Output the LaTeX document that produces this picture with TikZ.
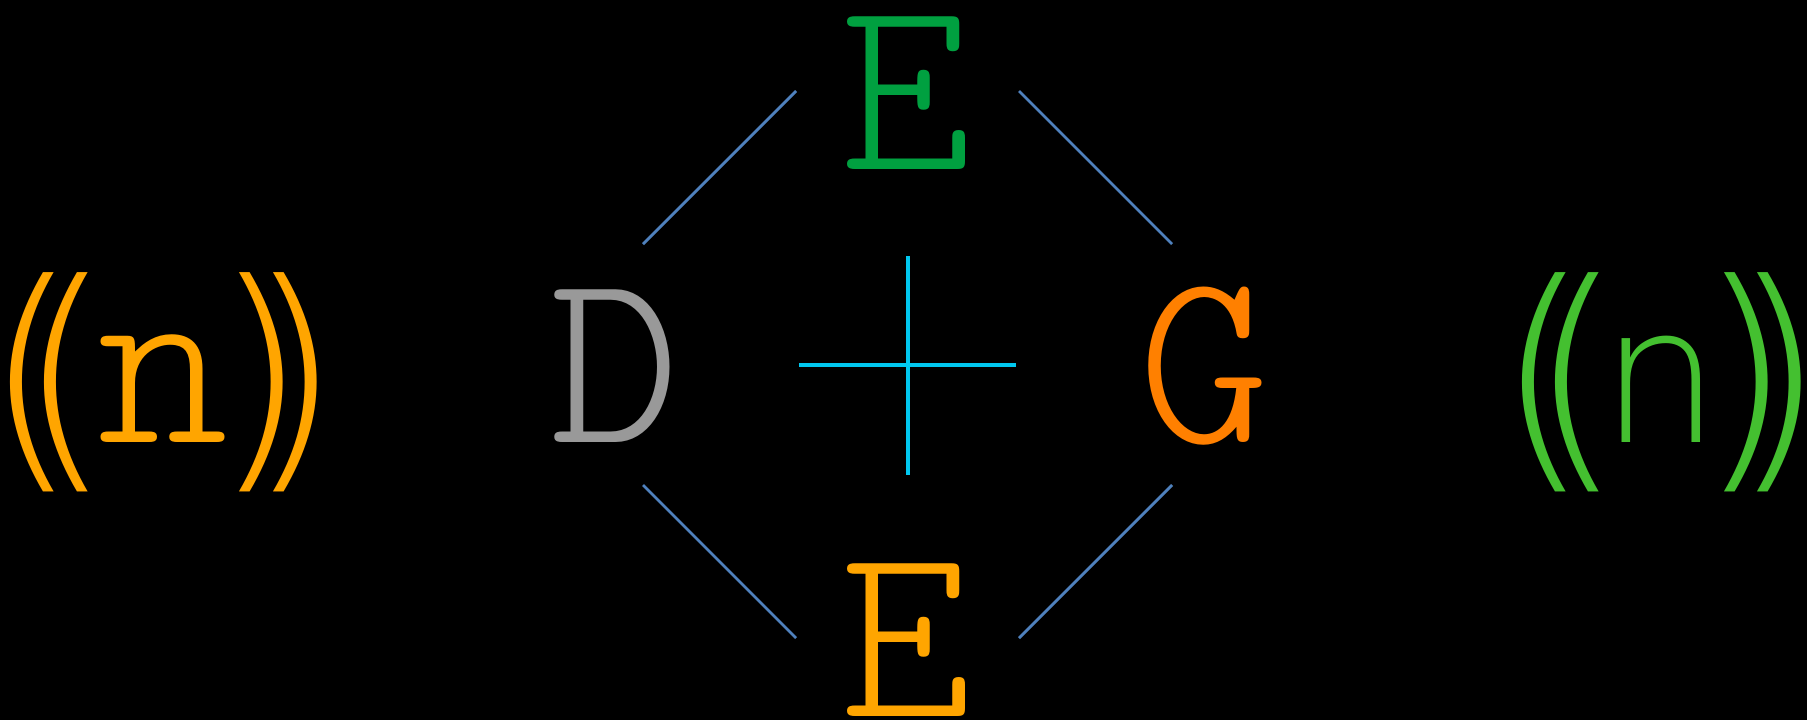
\documentclass[tikz,border=0pt]{standalone}
\usepackage{fontspec}
\newfontfamily\lmlt{Latin Modern Mono Light}
\newfontfamily\djl{DejaVu Sans ExtraLight}
\definecolor{egreen}{RGB}{0,160,64}
\definecolor{dgray}{RGB}{153,153,153}
\definecolor{gorange}{RGB}{255,128,0}
\definecolor{eorange}{RGB}{255,165,0}
\definecolor{rgreen}{RGB}{68,192,48}
\definecolor{pcyan}{RGB}{0,200,240}
\definecolor{lblue}{RGB}{79,129,189}
\newcommand{\bigtt}{\lmlt\fontsize{125pt}{125pt}\selectfont}
\newcommand{\pr}[1]{\raisebox{-8.5pt}{\djl\fontsize{123pt}{123pt}\selectfont #1}}
\begin{document}
\begin{tikzpicture}[x=0.5pt,y=-0.5pt,
  glyph/.style={inner sep=0pt, outer sep=0pt, anchor=base, font=\bigtt},
  link/.style={draw=lblue, line width=1.4pt},
  plusline/.style={draw=pcyan, line width=1.7pt}]
\fill[black] (0,0) rectangle (1807,720);
\useasboundingbox (0,0) rectangle (1807,720);

\node[glyph, text=egreen]  (Et) at (906,169) {E};
\node[glyph, text=dgray]   (D)  at (615,442) {D};
\node[glyph, text=gorange] (G)  at (1204,442) {G};
\node[glyph, text=eorange] (Eb) at (906,716) {E};

\node[glyph, text=eorange] (L) at (163,442)
  {\pr{(}\kern-31pt\pr{(}\kern-8pt n\kern-8pt\pr{)}\kern-31pt\pr{)}};
\node[glyph, text=rgreen] (R) at (1661,442)
  {\pr{(}\kern-31.5pt\pr{(}\kern-12pt{\djl\fontsize{95pt}{95pt}\selectfont n}\kern-12pt\pr{)}\kern-31.5pt\pr{)}};

% plus sign
\coordinate (pw) at (799,365);
\coordinate (pe) at (1016,365);
\coordinate (pn) at (908,256);
\coordinate (ps) at (908,475);
\draw[plusline] (pw) -- (pe);
\draw[plusline] (pn) -- (ps);

% connectors
\coordinate (c1) at (643,244);
\coordinate (c2) at (796,91);
\coordinate (c3) at (1019,91);
\coordinate (c4) at (1172,244);
\coordinate (c5) at (643,485);
\coordinate (c6) at (796,638);
\coordinate (c7) at (1019,638);
\coordinate (c8) at (1172,485);
\draw[link] (c1) -- (c2);
\draw[link] (c3) -- (c4);
\draw[link] (c5) -- (c6);
\draw[link] (c7) -- (c8);
\end{tikzpicture}
\end{document}
